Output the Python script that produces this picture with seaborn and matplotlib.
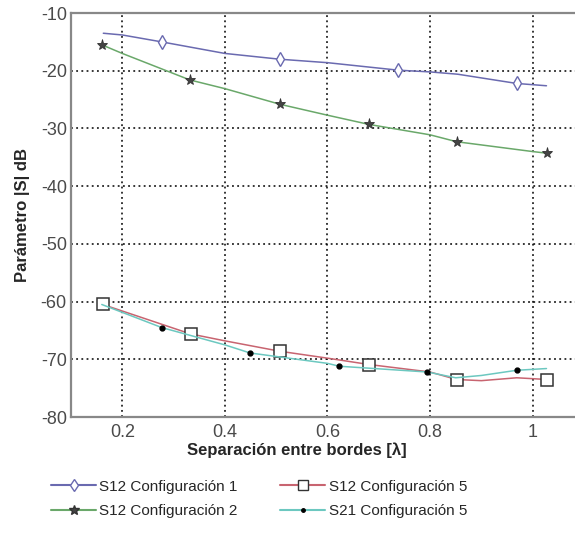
"""
Parámetro |S| frente a separación entre bordes.
"""

import matplotlib
matplotlib.use("Agg")

import matplotlib.pyplot as plt
import seaborn as sns
from matplotlib.lines import Line2D


# ---------------------------------------------------
# Datos
# ---------------------------------------------------

# S12 Configuración 1 (curva y marcadores)
c1_x = [0.163, 0.2, 0.277, 0.4, 0.507, 0.6, 0.738, 0.8, 0.854, 0.969, 1.027]
c1_y = [-13.5, -13.8, -15.0, -17.0, -18.0, -18.6, -19.9, -20.2, -20.6, -22.2, -22.6]
c1_mx = [0.277, 0.507, 0.738, 0.969]
c1_my = [-15.0, -18.0, -19.9, -22.2]

# S12 Configuración 2
c2_x = [0.16, 0.2, 0.332, 0.4, 0.507, 0.6, 0.681, 0.8, 0.852, 1.0, 1.029]
c2_y = [-15.5, -17.0, -21.6, -23.1, -25.8, -27.7, -29.3, -31.1, -32.3, -34.0, -34.3]
c2_mx = [0.16, 0.332, 0.507, 0.681, 0.852, 1.029]
c2_my = [-15.5, -21.6, -25.8, -29.3, -32.3, -34.3]

# S12 Configuración 5
c5_x = [0.162, 0.333, 0.4, 0.507, 0.6, 0.681, 0.8, 0.852, 0.9, 0.969, 1.029]
c5_y = [-60.5, -65.6, -66.8, -68.6, -69.8, -70.9, -72.2, -73.5, -73.7, -73.2, -73.5]
c5_mx = [0.162, 0.333, 0.507, 0.681, 0.852, 1.029]
c5_my = [-60.5, -65.6, -68.6, -70.9, -73.5, -73.5]

# S21 Configuración 5
s21_x = [0.16, 0.277, 0.4, 0.449, 0.6, 0.623, 0.795, 0.85, 0.9, 0.969, 1.027]
s21_y = [-60.5, -64.5, -67.5, -68.9, -70.7, -71.2, -72.2, -73.2, -72.8, -71.9, -71.6]
s21_mx = [0.277, 0.449, 0.623, 0.795, 0.969]
s21_my = [-64.5, -68.9, -71.2, -72.2, -71.9]

labels = [
    "S12 Configuración 1",
    "S12 Configuración 2",
    "S12 Configuración 5",
    "S21 Configuración 5",
]

x_ticks = [0.2, 0.4, 0.6, 0.8, 1.0]
x_tick_labels = ["0.2", "0.4", "0.6", "0.8", "1"]
y_ticks = [-80, -70, -60, -50, -40, -30, -20, -10]


# ---------------------------------------------------
# Figura
# ---------------------------------------------------

sns.set_style("white")
plt.rcParams["font.family"] = ["Liberation Sans", "DejaVu Sans"]
plt.rcParams["axes.unicode_minus"] = False

fig = plt.figure(figsize=(5.75, 5.39), dpi=100)
ax = fig.add_axes([0.1235, 0.2263, 0.892, 0.7495])

colors = ["#6a6ab0", "#6aa86a", "#c86470", "#6cc8c0"]
series = [
    (c1_x, c1_y, c1_mx, c1_my, "d"),
    (c2_x, c2_y, c2_mx, c2_my, "*"),
    (c5_x, c5_y, c5_mx, c5_my, "s"),
    (s21_x, s21_y, s21_mx, s21_my, "."),
]

for (cx, cy, mx, my, mk), col in zip(series, colors):
    sns.lineplot(x=cx, y=cy, ax=ax, color=col, linewidth=1.1, sort=False)
    if mk == "*":
        ax.plot(mx, my, linestyle="none", marker=mk, markersize=8,
                markerfacecolor="#444444", markeredgecolor="#333333",
                markeredgewidth=0.6)
    elif mk == ".":
        ax.plot(mx, my, linestyle="none", marker="o", markersize=3.5,
                markerfacecolor="black", markeredgecolor="black")
    elif mk == "s":
        ax.plot(mx, my, linestyle="none", marker="s", markersize=8,
                markerfacecolor="white", markeredgecolor="#333333",
                markeredgewidth=1.1)
    else:
        ax.plot(mx, my, linestyle="none", marker="d", markersize=7.5,
                markerfacecolor="white", markeredgecolor=col,
                markeredgewidth=1.0)

ax.set_xlim(0.1, 1.1)
ax.set_ylim(-80, -10)
ax.set_xticks(x_ticks)
ax.set_xticklabels(x_tick_labels)
ax.set_yticks(y_ticks)

ax.grid(True, linestyle=(0, (1.2, 2.2)), color="black", linewidth=1.1)
ax.tick_params(axis="both", direction="in", length=4, labelsize=13,
               labelcolor="#4a4a4a", color="#777777")
ax.tick_params(axis="x", pad=5)
ax.tick_params(axis="y", pad=3)

for s in ax.spines.values():
    s.set_color("#888888")
    s.set_linewidth(1.6)

ax.set_xlabel("Separación entre bordes [λ]", fontsize=12,
              fontweight="bold", labelpad=1)
ax.xaxis.label.set_x(0.44)
ax.set_ylabel("Parámetro |S| dB", fontsize=12,
              fontweight="bold", labelpad=8)

# Leyenda
handles = [
    Line2D([], [], color=colors[0], marker="d", markersize=6,
           markerfacecolor="white", markeredgecolor=colors[0]),
    Line2D([], [], color=colors[1], marker="*", markersize=7,
           markerfacecolor="#444444", markeredgecolor="#333333"),
    Line2D([], [], color=colors[2], marker="s", markersize=7,
           markerfacecolor="white", markeredgecolor="#333333"),
    Line2D([], [], color=colors[3], marker="o", markersize=2.5,
           markerfacecolor="black", markeredgecolor="black"),
]
fig.legend(
    handles, labels,
    loc="center left",
    bbox_to_anchor=(0.065, 0.074),
    ncol=2,
    frameon=False,
    fontsize=11,
    handlelength=2.95,
    columnspacing=2.8,
    labelspacing=0.7,
    handletextpad=0.2,
)

plt.savefig("out.png", dpi=100)
